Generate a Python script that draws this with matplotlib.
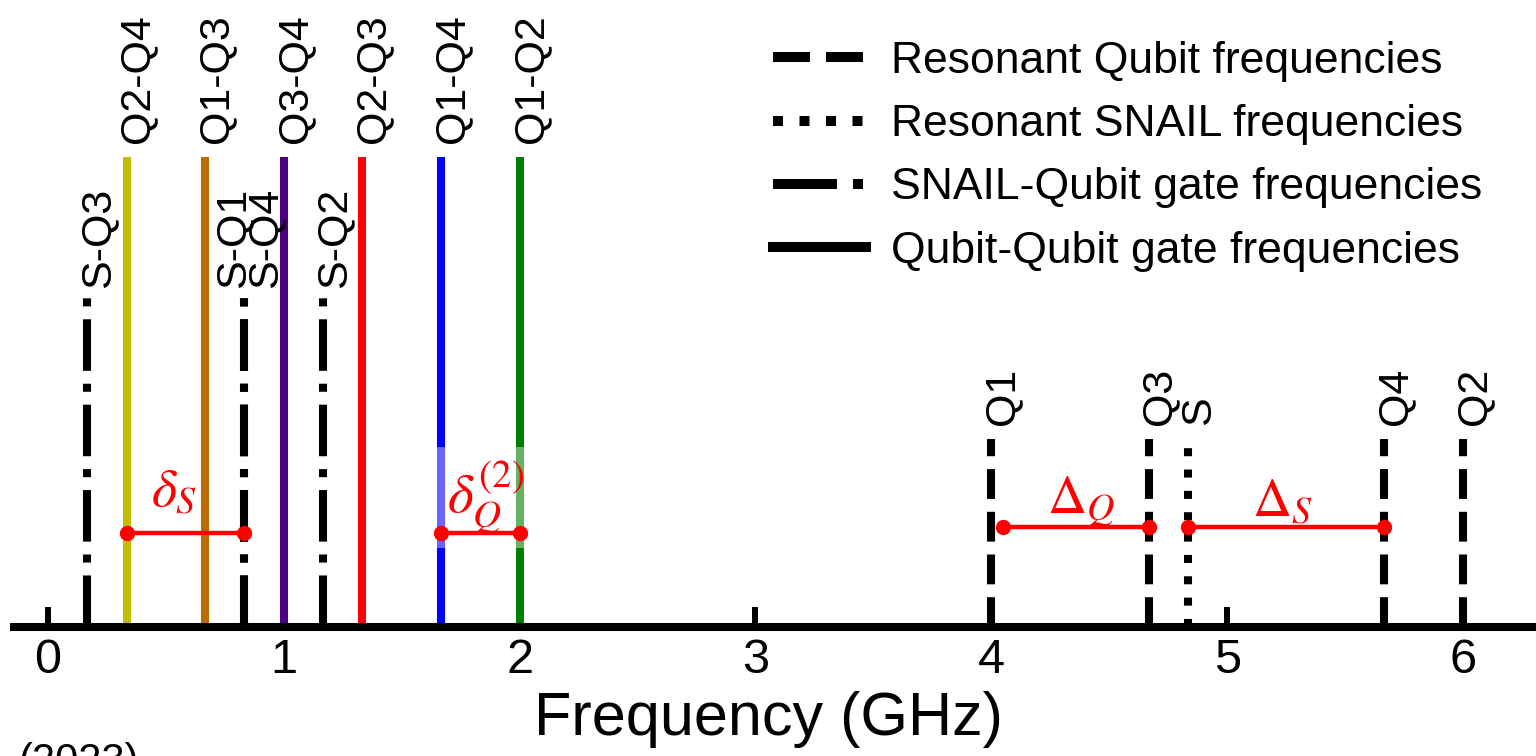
import matplotlib
matplotlib.use('Agg')
import matplotlib.pyplot as plt

plt.rcParams['font.family'] = ['Liberation Sans', 'DejaVu Sans']
plt.rcParams['mathtext.fontset'] = 'stix'

# resonant frequencies (GHz)
qubit_names = ['Q1', 'Q2', 'Q3', 'Q4']
qubit_freqs = [4.0, 6.0, 4.667, 5.667]
snail_names = ['S']
snail_freqs = [4.833]

# SNAIL-qubit gate frequencies
sq_names = ['S-Q3', 'S-Q1', 'S-Q4', 'S-Q2']
sq_freqs = [0.167, 0.833, 0.833, 1.167]

# qubit-qubit gate frequencies
qq_names = ['Q2-Q4', 'Q1-Q3', 'Q3-Q4', 'Q2-Q3', 'Q1-Q4', 'Q1-Q2']
qq_freqs = [0.333, 0.667, 1.0, 1.333, 1.667, 2.0]
qq_colors = ['#bfbf00', '#bf6a00', '#4b0082', 'red', 'blue', 'green']

# detunings
det_labels = [r'$\delta_S$', r'$\delta_Q^{(2)}$', r'$\Delta_Q$', r'$\Delta_S$']
det_start = [0.333, 1.667, 4.05, 4.833]
det_end = [0.833, 2.0, 4.667, 5.667]
det_level = [0.2, 0.2, 0.213, 0.213]

# line heights (arbitrary units)
h_res = 0.4
h_sq = 0.7
h_qq = 1.0

# label layout (offsets in points, label centres in data units)
sq_dx = {'S-Q1': -8, 'S-Q4': 15}
det_text_x = [0.534, 1.855, 4.38, 5.237]
det_text_y = [0.287, 0.275, 0.266, 0.266]
det_boxed = [False, True, False, False]

lw = 5.8
lab_fs = 31

fig = plt.figure(figsize=(15.36, 7.56), dpi=100)
ax = fig.add_axes([0, 0, 1, 1])


def vline(f, h, label=None, **kw):
    ax.plot([f, f], [0, h], lw=lw, solid_capstyle='butt', dash_capstyle='butt',
            label=label, **kw)


def vlabel(f, h, text, dx=8, dy=10):
    ax.annotate(text, xy=(f, h), xytext=(dx, dy), textcoords='offset points',
                rotation=90, ha='center', va='bottom', fontsize=lab_fs)


# resonant qubits
for i, (name, f) in enumerate(zip(qubit_names, qubit_freqs)):
    vline(f, h_res, 'Resonant Qubit frequencies' if i == 0 else None,
          color='k', ls='--')
    vlabel(f, h_res, name)

# resonant SNAIL
for i, (name, f) in enumerate(zip(snail_names, snail_freqs)):
    vline(f, h_res, 'Resonant SNAIL frequencies' if i == 0 else None,
          color='k', ls=':')
    vlabel(f, h_res, name)

# SNAIL-qubit gates
for i, (name, f) in enumerate(zip(sq_names, sq_freqs)):
    vline(f, h_sq, 'SNAIL-Qubit gate frequencies' if i == 0 else None,
          color='k', ls='-.')
    vlabel(f, h_sq, name, dx=sq_dx.get(name, 8), dy=7)

# qubit-qubit gates
for i, (name, f, c) in enumerate(zip(qq_names, qq_freqs, qq_colors)):
    vline(f, h_qq, None, color=c, ls='-')
    vlabel(f, h_qq, name, dy=10)
# black proxy for the legend
ax.plot([], [], color='k', lw=lw, ls='-', label='Qubit-Qubit gate frequencies')

# detuning markers
for lab, x0, x1, yl, tx, ty, boxed in zip(det_labels, det_start, det_end,
                                          det_level, det_text_x, det_text_y,
                                          det_boxed):
    ax.plot([x0, x1], [yl, yl], color='red', lw=3.2, marker='o', ms=10,
            zorder=5)
    bb = None
    if boxed:
        bb = dict(facecolor='white', edgecolor='none', alpha=0.4, pad=8)
    ax.text(tx, ty, lab, color='red', fontsize=40 if boxed else 39,
            ha='center', va='center', zorder=4, bbox=bb)

ax.set_xlim(-0.2035, 6.31)
ax.set_ylim(-0.2745, 1.334)

for s in ['top', 'left', 'right']:
    ax.spines[s].set_visible(False)
ax.spines['bottom'].set_position(('data', 0))
ax.spines['bottom'].set_linewidth(lw)
ax.spines['bottom'].set_bounds(-0.144, 6.31)
ax.spines['bottom'].set_zorder(6)
ax.set_xticks(range(7))
ax.set_yticks([])
ax.tick_params(axis='x', direction='in', length=14.4, width=4.3,
               labelsize=35, pad=8)
ax.set_xlabel('Frequency (GHz)', fontsize=44, labelpad=6)
ax.patch.set_visible(False)

leg = ax.legend(loc='upper left', bbox_to_anchor=(773 / 1536, 1 - 41 / 756),
                bbox_transform=fig.transFigure, frameon=False, borderpad=0,
                borderaxespad=0, handlelength=2.09, handletextpad=0.56,
                labelspacing=0.5, fontsize=32)
for line in leg.get_lines():
    line.set_linewidth(7.2)

# clipped caption remnant at the bottom edge
fig.text(18 / 1536, -0.022, '(2023)', fontsize=30)

fig.savefig('out.png', dpi=100)
